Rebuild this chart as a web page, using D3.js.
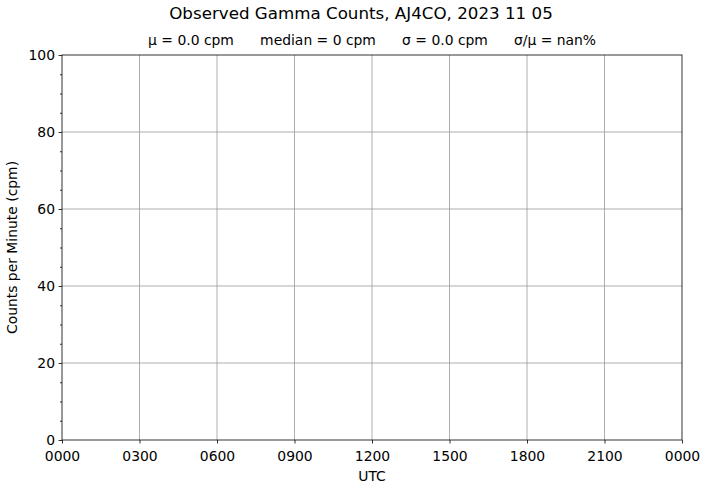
<!DOCTYPE html>
<html><head><meta charset="utf-8">
<script src="https://cdn.jsdelivr.net/npm/d3@7"></script>
<style>body{margin:0;background:#fff}svg{display:block;font-family:"DejaVu Sans",sans-serif}</style>
</head><body><svg id="c" width="705" height="489"></svg>
<script>
const title = "Observed Gamma Counts, AJ4CO, 2023 11 05";
const statsLabels = ["μ = 0.0 cpm", "median = 0 cpm", "σ = 0.0 cpm", "σ/μ = nan%"];
const statsX = [191, 318, 445, 555];
const times = [];   // no observations
const counts = [];
const yTicks = [0, 20, 40, 60, 80, 100];
const yMinorTicks = d3.range(0, 101, 5);
const xTickHours = [0, 3, 6, 9, 12, 15, 18, 21, 24];

const svg = d3.select("#c");
const m = {l: 62, r: 682, t: 55, b: 440};
const day0 = new Date(Date.UTC(2023, 10, 5));
const x = d3.scaleUtc().domain([day0, new Date(day0.getTime() + 24*3600e3)]).range([m.l, m.r]);
const y = d3.scaleLinear().domain([0, 100]).range([m.b, m.t]);
const xTicks = xTickHours.map(h => new Date(day0.getTime() + h*3600e3));

// grid
const g = svg.append("g");
g.selectAll("line.vx").data(xTicks.slice(1, -1)).join("line")
  .attr("x1", d => x(d)).attr("x2", d => x(d)).attr("y1", m.t).attr("y2", m.b)
  .attr("stroke", "#999").attr("stroke-width", 0.8);
g.selectAll("line.hy").data(yTicks.slice(1, -1)).join("line")
  .attr("x1", m.l).attr("x2", m.r).attr("y1", d => y(d)).attr("y2", d => y(d))
  .attr("stroke", "#999").attr("stroke-width", 0.8);

// data line (empty)
svg.append("path").datum(times.map((t, i) => [t, counts[i]]))
  .attr("fill", "none").attr("stroke", "#1f77b4")
  .attr("d", d3.line().x(d => x(d[0])).y(d => y(d[1])));

// axes
const xAxis = d3.axisBottom(x).tickValues(xTicks).tickFormat(d3.utcFormat("%H%M")).tickSize(3.5).tickPadding(7.5);
const gx = svg.append("g").attr("transform", `translate(0,${m.b})`).call(xAxis);
const yAxis = d3.axisLeft(y).tickValues(yTicks).tickSize(3.5).tickPadding(3.5);
const gy = svg.append("g").attr("transform", `translate(${m.l},0)`).call(yAxis);
svg.append("g").attr("transform", `translate(${m.l},0)`)
  .call(d3.axisLeft(y).tickValues(yMinorTicks.filter(v => !yTicks.includes(v))).tickSize(2).tickFormat(""))
  .call(s => s.select(".domain").remove());
[gx, gy].forEach(a => {
  a.select(".domain").remove();
  a.selectAll("text").attr("font-size", 13.9).attr("fill", "#000").attr("font-family", "DejaVu Sans");
});
svg.selectAll(".tick line").attr("stroke", "#000").attr("stroke-width", 0.8);

// frame
svg.append("rect").attr("x", m.l).attr("y", m.t).attr("width", m.r - m.l).attr("height", m.b - m.t)
  .attr("fill", "none").attr("stroke", "#000").attr("stroke-width", 0.8);

// labels
svg.append("text").attr("x", 361).attr("y", 19).attr("text-anchor", "middle").attr("font-size", 16.7).text(title);
svg.selectAll("text.st").data(statsLabels).join("text").attr("class", "st")
  .attr("x", (d, i) => statsX[i]).attr("y", 45).attr("text-anchor", "middle").attr("font-size", 13.9).text(d => d);
svg.append("text").attr("x", (m.l + m.r)/2).attr("y", 481).attr("text-anchor", "middle").attr("font-size", 13.9).text("UTC");
svg.append("text").attr("transform", `translate(17,${(m.t + m.b)/2}) rotate(-90)`).attr("text-anchor", "middle").attr("font-size", 13.9).text("Counts per Minute (cpm)");
</script></body></html>
